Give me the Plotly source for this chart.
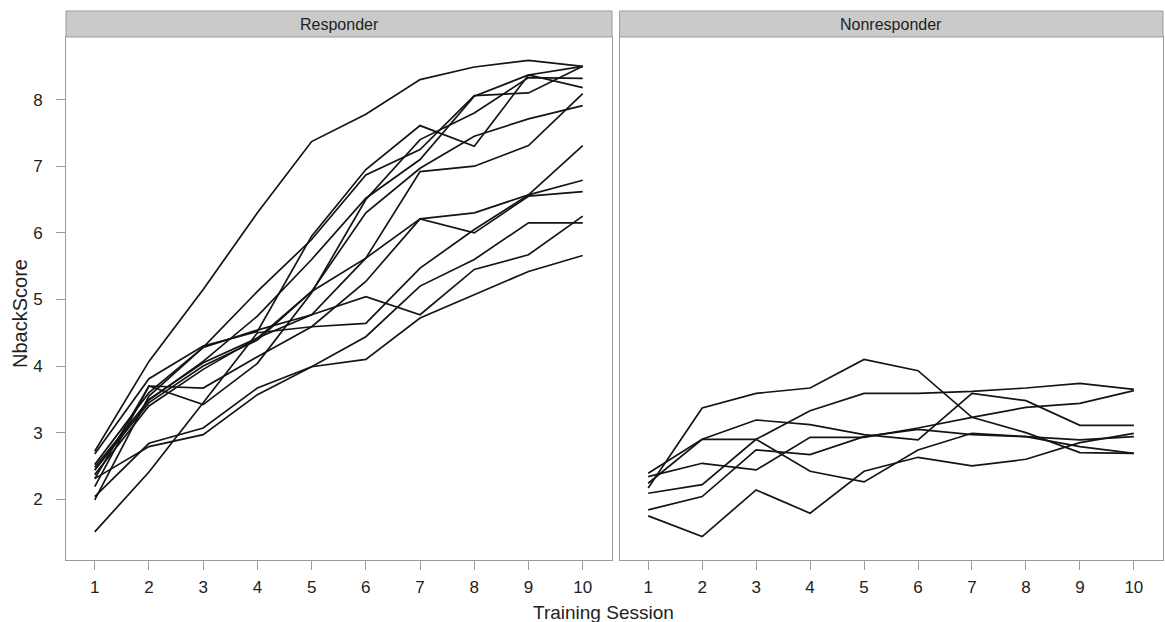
import plotly.graph_objects as go

# Training sessions on the x axis
sessions = [1, 2, 3, 4, 5, 6, 7, 8, 9, 10]

# N-back scores per participant, Responder group
responder_scores = [
    [2.72, 4.07, 5.15, 6.30, 7.37, 7.78, 8.30, 8.49, 8.59, 8.50],
    [2.68, 3.81, 4.30, 4.52, 5.95, 6.95, 7.61, 7.30, 8.37, 8.50],
    [2.52, 3.60, 4.28, 5.12, 5.90, 6.87, 7.25, 8.06, 8.10, 8.50],
    [2.48, 3.49, 4.07, 4.75, 5.60, 6.52, 7.10, 8.05, 8.37, 8.18],
    [2.44, 3.45, 4.00, 4.39, 5.12, 6.30, 6.97, 7.45, 7.71, 7.91],
    [2.37, 3.40, 3.95, 4.42, 4.77, 5.62, 6.92, 7.00, 7.31, 8.09],
    [2.31, 3.70, 3.42, 4.04, 5.10, 6.50, 7.40, 7.80, 8.33, 8.32],
    [2.19, 3.70, 3.67, 4.14, 4.59, 5.27, 6.21, 6.30, 6.57, 6.79],
    [1.99, 3.55, 4.28, 4.54, 4.77, 5.04, 4.77, 5.45, 5.67, 6.25],
    [2.04, 2.84, 3.07, 3.67, 3.99, 4.44, 5.20, 5.60, 6.15, 6.15],
    [2.31, 2.79, 2.97, 3.57, 3.99, 4.10, 4.72, 5.07, 5.42, 5.66],
    [1.51, 2.41, 3.45, 4.50, 4.59, 4.64, 5.47, 6.05, 6.57, 7.31],
    [2.44, 3.50, 4.05, 4.42, 5.12, 5.62, 6.21, 6.00, 6.55, 6.62],
]

# N-back scores per participant, Nonresponder group
nonresponder_scores = [
    [2.17, 3.37, 3.59, 3.67, 4.10, 3.93, 3.23, 3.00, 2.70, 2.69],
    [2.39, 2.90, 3.19, 3.12, 2.97, 2.89, 3.59, 3.48, 3.11, 3.11],
    [2.24, 2.90, 2.90, 2.42, 2.26, 2.74, 2.99, 2.94, 2.79, 2.69],
    [1.75, 1.44, 2.14, 1.79, 2.42, 2.63, 2.50, 2.60, 2.85, 2.99],
    [2.34, 2.54, 2.44, 2.93, 2.93, 3.07, 3.23, 3.38, 3.44, 3.63],
    [2.09, 2.22, 2.90, 3.33, 3.59, 3.59, 3.62, 3.67, 3.74, 3.65],
    [1.84, 2.04, 2.74, 2.67, 2.94, 3.05, 2.97, 2.94, 2.89, 2.94],
]

panel_names = ["Responder", "Nonresponder"]
y_ticks = [2, 3, 4, 5, 6, 7, 8]

W, H = 1165, 622
ML, MR, MT, MB = 66, 2, 37, 62
plot_w = W - ML - MR
plot_h = H - MT - MB

left_dom = [0.0, (612 - ML) / plot_w]
right_dom = [(619.6 - ML) / plot_w, 1.0]

line_style = dict(color="#141414", width=1.7)

fig = go.Figure()
for ys in responder_scores:
    fig.add_trace(go.Scatter(x=sessions, y=ys, mode="lines", line=line_style,
                             xaxis="x", yaxis="y", showlegend=False, hoverinfo="skip"))
for ys in nonresponder_scores:
    fig.add_trace(go.Scatter(x=sessions, y=ys, mode="lines", line=line_style,
                             xaxis="x2", yaxis="y2", showlegend=False, hoverinfo="skip"))

frame = "#9b9b9b"
tick_font = dict(family="Liberation Sans, Arial, sans-serif", size=17, color="#222")

xaxis_common = dict(
    range=[0.47, 10.54], tickvals=sessions, ticktext=[str(s) for s in sessions],
    ticks="outside", ticklen=9, tickcolor=frame, tickwidth=1, ticklabelstandoff=3,
    showline=True, linecolor=frame, linewidth=1, mirror=True,
    showgrid=False, zeroline=False, tickfont=tick_font, fixedrange=True,
)
yaxis_common = dict(
    range=[1.088, 8.94], tickvals=y_ticks,
    showline=True, linecolor=frame, linewidth=1, mirror=True,
    showgrid=False, zeroline=False, tickfont=tick_font, fixedrange=True,
)

fig.update_layout(
    width=W, height=H,
    margin=dict(l=ML, r=MR, t=MT, b=MB, autoexpand=False),
    paper_bgcolor="white", plot_bgcolor="white",
    xaxis=dict(domain=left_dom, anchor="y", **xaxis_common),
    xaxis2=dict(domain=right_dom, anchor="y2", **xaxis_common),
    yaxis=dict(domain=[0, 1], anchor="x", ticks="outside", ticklen=9,
               tickcolor=frame, tickwidth=1, ticklabelstandoff=10, **yaxis_common),
    yaxis2=dict(domain=[0, 1], anchor="x2", ticks="", showticklabels=False,
                matches="y", **yaxis_common),
    font=dict(family="Liberation Sans, Arial, sans-serif", color="#222"),
)

# Strip headers above each panel
strip_h = 26 / plot_h
shapes = []
annotations = []
for dom, name in zip([left_dom, right_dom], panel_names):
    shapes.append(dict(type="rect", xref="paper", yref="paper",
                       x0=dom[0], x1=dom[1], y0=1.0, y1=1.0 + strip_h,
                       fillcolor="#cacaca", line=dict(color=frame, width=1)))
    annotations.append(dict(text=name, xref="paper", yref="paper",
                            x=(dom[0] + dom[1]) / 2, y=1.0 + strip_h / 2,
                            xanchor="center", yanchor="middle", showarrow=False,
                            font=dict(size=16, color="#222")))

# Axis titles
annotations.append(dict(text="Training Session", xref="paper", yref="paper",
                        x=(603 - ML) / plot_w, y=-(612 - (H - MB)) / plot_h,
                        xanchor="center", yanchor="middle", showarrow=False,
                        font=dict(size=19, color="#222")))
annotations.append(dict(text="NbackScore", xref="paper", yref="paper",
                        x=(20 - ML) / plot_w, y=(H - MB - 314) / plot_h, textangle=-90,
                        xanchor="center", yanchor="middle", showarrow=False,
                        font=dict(size=20, color="#222")))

fig.update_layout(shapes=shapes, annotations=annotations)

fig.write_html("out.html")
